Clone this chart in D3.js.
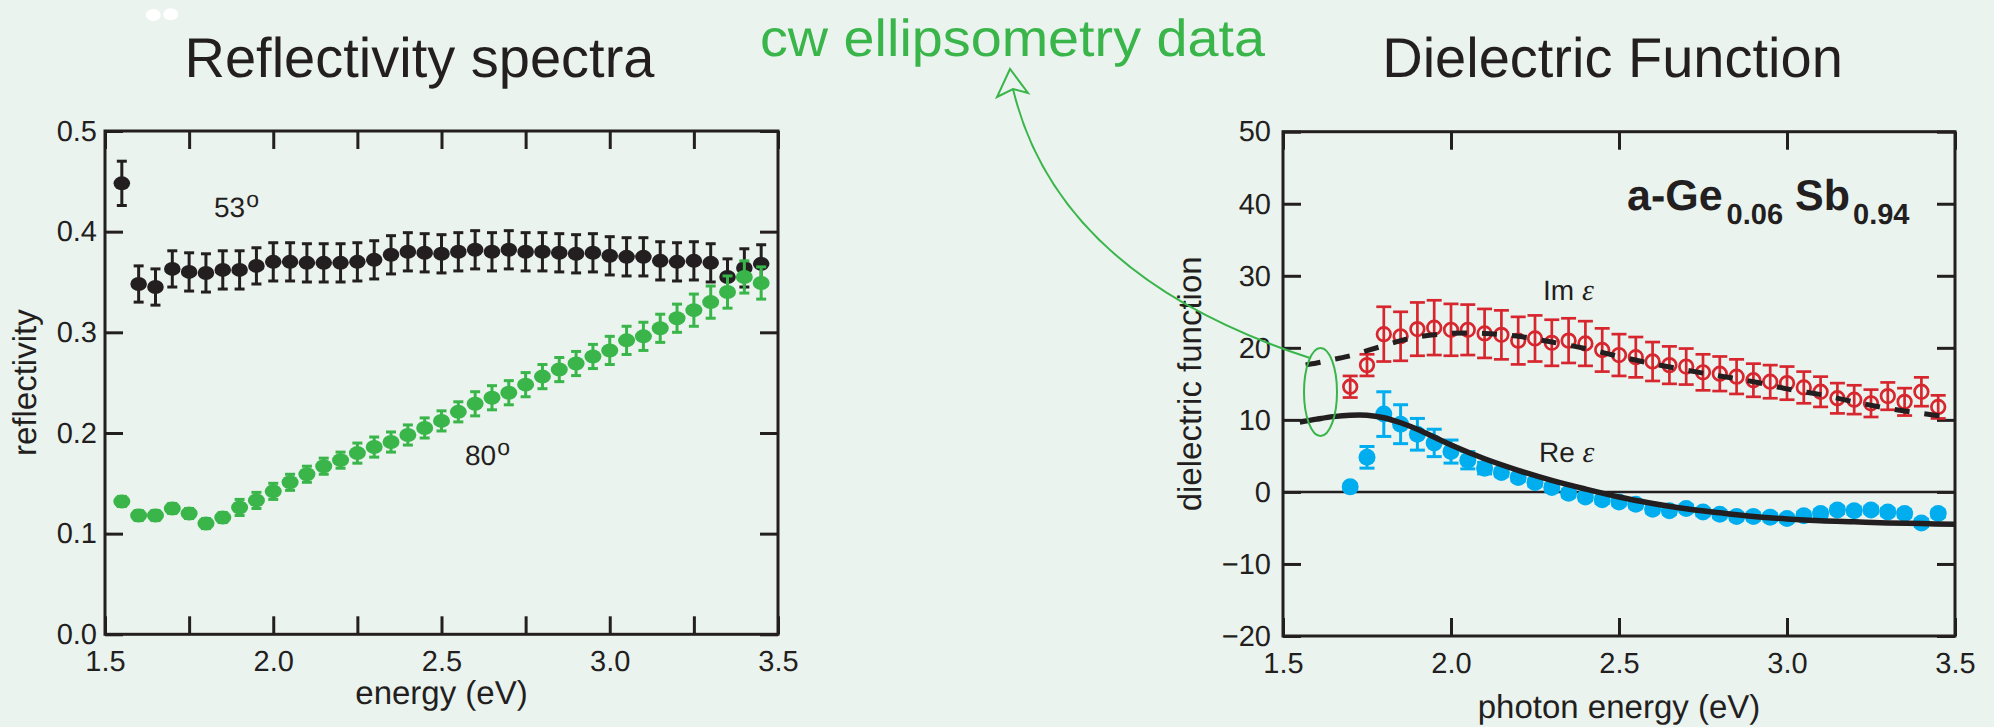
<!DOCTYPE html>
<html>
<head>
<meta charset="utf-8">
<script src="https://cdn.jsdelivr.net/npm/d3@7"></script>
<style>
  html, body { margin: 0; padding: 0; background: #ebf3ef; }
  svg { display: block; font-family: "Liberation Sans", Arial, Helvetica, sans-serif; text-rendering: geometricPrecision; }
</style>
</head>
<body>
<svg id="fig" width="1994" height="727"></svg>
<script>
// ---------- Reflectivity spectra ----------
const energyL = [1.55,1.60,1.65,1.70,1.75,1.80,1.85,1.90,1.95,2.00,2.05,2.10,2.15,2.20,2.25,2.30,2.35,2.40,2.45,2.50,
                 2.55,2.60,2.65,2.70,2.75,2.80,2.85,2.90,2.95,3.00,3.05,3.10,3.15,3.20,3.25,3.30,3.35,3.40,3.45];
const refl53 = [0.448,0.348,0.345,0.363,0.360,0.359,0.362,0.362,0.366,0.370,0.370,0.369,0.369,0.369,0.370,0.372,0.377,0.380,0.379,0.378,
                0.380,0.382,0.380,0.382,0.380,0.380,0.379,0.378,0.379,0.376,0.375,0.375,0.371,0.370,0.371,0.369,0.355,0.364,0.368];
const err53  = [0.022,0.018,0.018,0.018,0.019,0.019,0.019,0.019,0.018,0.019,0.019,0.019,0.019,0.019,0.019,0.019,0.019,0.019,0.019,0.019,
                0.019,0.019,0.019,0.019,0.019,0.019,0.019,0.019,0.019,0.019,0.019,0.019,0.019,0.019,0.019,0.019,0.018,0.019,0.019];
const refl80 = [0.132,0.118,0.118,0.125,0.120,0.110,0.116,0.126,0.133,0.142,0.151,0.159,0.167,0.173,0.180,0.186,0.191,0.198,0.205,0.212,
                0.221,0.229,0.235,0.240,0.248,0.256,0.263,0.269,0.276,0.282,0.292,0.296,0.304,0.314,0.322,0.330,0.340,0.355,0.349];
const err80  = [0.005,0.005,0.005,0.005,0.005,0.005,0.005,0.008,0.008,0.008,0.008,0.008,0.008,0.008,0.010,0.010,0.010,0.010,0.010,0.010,
                0.010,0.012,0.012,0.012,0.012,0.012,0.012,0.012,0.012,0.014,0.014,0.014,0.014,0.014,0.016,0.016,0.016,0.016,0.016];
const reflTicksY = [0.0,0.1,0.2,0.3,0.4,0.5];
const energyTicksL = [1.5,1.75,2.0,2.25,2.5,2.75,3.0,3.25,3.5];

// ---------- Dielectric function ----------
const energyR = [1.70,1.75,1.80,1.85,1.90,1.95,2.00,2.05,2.10,2.15,2.20,2.25,2.30,2.35,2.40,2.45,2.50,2.55,
                 2.60,2.65,2.70,2.75,2.80,2.85,2.90,2.95,3.00,3.05,3.10,3.15,3.20,3.25,3.30,3.35,3.40,3.45];
const imEps  = [14.6,17.6,21.9,21.6,22.6,22.8,22.5,22.5,22.0,21.8,21.0,21.3,20.7,21.0,20.6,19.7,19.0,18.7,
                18.1,17.6,17.4,16.6,16.4,16.0,15.5,15.3,15.1,14.5,13.9,13.0,12.8,12.3,13.3,12.5,13.9,11.8];
const imErr  = [1.5,1.5,3.8,3.4,3.7,3.8,3.6,3.5,3.4,3.4,3.3,3.2,3.2,3.1,3.1,3.0,2.9,2.8,
                2.7,2.6,2.5,2.5,2.4,2.4,2.3,2.3,2.3,2.2,2.1,2.1,2.0,1.9,1.9,1.9,2.0,1.6];
const reEps  = [0.7,4.8,10.8,9.4,8.0,6.8,5.6,4.4,3.3,2.7,2.0,1.3,0.6,-0.2,-0.7,-1.1,-1.4,-1.7,
                -2.4,-2.6,-2.3,-2.8,-3.1,-3.4,-3.4,-3.5,-3.7,-3.3,-3.0,-2.5,-2.6,-2.5,-2.8,-3.0,-4.3,-3.0];
const reErr  = [0.4,1.5,3.1,2.7,2.2,1.9,1.6,1.2,0.8,0.5,0.5,0.5,0.5,0.5,0.5,0.5,0.5,0.5,
                0.5,0.5,0.5,0.5,0.5,0.5,0.5,0.5,0.5,0.5,0.5,0.5,0.5,0.5,0.5,0.5,0.5,0.5];
// model fit curves
const modelE  = [1.55,1.60,1.65,1.70,1.75,1.80,1.85,1.90,2.00,2.10,2.20,2.30,2.40,2.50,2.60,2.70,2.80,2.90,3.00,3.10,3.20,3.30,3.40,3.50];
const imModel = [17.5,17.9,18.4,18.9,19.6,20.3,21.0,21.5,22.0,22.0,21.6,20.8,19.9,18.8,17.8,16.9,16.1,15.3,14.3,13.5,12.5,11.6,10.9,10.3];
const reModel = [9.7,10.1,10.45,10.65,10.65,10.3,9.6,8.7,6.5,4.6,3.0,1.6,0.4,-0.7,-1.6,-2.35,-2.9,-3.4,-3.75,-4.0,-4.15,-4.3,-4.4,-4.5];
const epsTicksY = [-20,-10,0,10,20,30,40,50];
const energyTicksR = [1.5,2.0,2.5,3.0,3.5];

const INK = "#231f20", GREEN = "#39b54a", RED = "#d7262e", BLUE = "#00aeef";
const svg = d3.select("#fig");

// ---------- scales ----------
const xL = d3.scaleLinear().domain([1.5, 3.5]).range([105, 778]);
const yL = d3.scaleLinear().domain([0, 0.5]).range([634.3, 131]);
const xR = d3.scaleLinear().domain([1.5, 3.5]).range([1283, 1955]);
const yR = d3.scaleLinear().domain([-20, 50]).range([636, 131.7]);

function styleAxis(g, fs) {
  g.select(".domain").remove();
  g.selectAll(".tick line").attr("stroke", INK).attr("stroke-width", 3);
  g.selectAll(".tick text").attr("fill", INK).attr("font-size", fs)
    .attr("font-family", '"Liberation Sans", Arial, sans-serif');
  g.attr("font-size", null).attr("font-family", null);
}

function frame(x, y) {
  const [x0, x1] = x.range(), [y0, y1] = y.range();
  svg.append("rect").attr("x", x0).attr("y", y1).attr("width", x1 - x0).attr("height", y0 - y1)
    .attr("fill", "none").attr("stroke", INK).attr("stroke-width", 3);
}

function errorBars(parent, xs, ys, es, x, y, capHalf, color, width) {
  const g = parent.append("g").attr("stroke", color).attr("stroke-width", width);
  const data = xs.map((e, i) => ({ e, v: ys[i], s: es[i] }));
  g.selectAll(".stem").data(data).enter().append("line")
    .attr("x1", d => x(d.e)).attr("x2", d => x(d.e))
    .attr("y1", d => y(d.v - d.s)).attr("y2", d => y(d.v + d.s));
  g.selectAll(".capHi").data(data).enter().append("line")
    .attr("x1", d => x(d.e) - capHalf).attr("x2", d => x(d.e) + capHalf)
    .attr("y1", d => y(d.v + d.s)).attr("y2", d => y(d.v + d.s));
  g.selectAll(".capLo").data(data).enter().append("line")
    .attr("x1", d => x(d.e) - capHalf).attr("x2", d => x(d.e) + capHalf)
    .attr("y1", d => y(d.v - d.s)).attr("y2", d => y(d.v - d.s));
}

// ---------- left panel ----------
const fmt1 = d3.format(".1f");
const halfStep = d => Math.abs(d * 2 - Math.round(d * 2)) < 1e-6;

svg.append("g").attr("transform", `translate(0,${yL(0)})`)
  .call(d3.axisBottom(xL).tickValues(energyTicksL).tickSize(-18).tickSizeOuter(0).tickPadding(16)
    .tickFormat(d => halfStep(d) ? fmt1(d) : ""))
  .call(g => styleAxis(g, 29));
svg.append("g").attr("transform", `translate(0,${yL(0.5)})`)
  .call(d3.axisTop(xL).tickValues(energyTicksL).tickSize(-18).tickSizeOuter(0).tickFormat(""))
  .call(g => styleAxis(g, 29));
svg.append("g").attr("transform", `translate(${xL(1.5)},0)`)
  .call(d3.axisLeft(yL).tickValues(reflTicksY).tickSize(-18).tickSizeOuter(0).tickPadding(8).tickFormat(fmt1))
  .call(g => styleAxis(g, 29));
svg.append("g").attr("transform", `translate(${xL(3.5)},0)`)
  .call(d3.axisRight(yL).tickValues(reflTicksY).tickSize(-18).tickSizeOuter(0).tickFormat(""))
  .call(g => styleAxis(g, 29));
frame(xL, yL);

const pL = svg.append("g");
errorBars(pL, energyL, refl53, err53, xL, yL, 5, INK, 3);
pL.append("g").selectAll("ellipse").data(energyL).enter().append("ellipse")
  .attr("cx", d => xL(d)).attr("cy", (d, i) => yL(refl53[i])).attr("rx", 8.3).attr("ry", 7).attr("fill", INK);
errorBars(pL, energyL, refl80, err80, xL, yL, 5, GREEN, 3);
pL.append("g").selectAll("ellipse").data(energyL).enter().append("ellipse")
  .attr("cx", d => xL(d)).attr("cy", (d, i) => yL(refl80[i])).attr("rx", 8.5).attr("ry", 7).attr("fill", GREEN);

svg.append("text").attr("x", 214).attr("y", 217).attr("font-size", 28).attr("fill", INK)
  .text("53").append("tspan").attr("dy", -10).attr("dx", 1).attr("font-size", 23).text("o");
svg.append("text").attr("x", 465).attr("y", 465).attr("font-size", 28).attr("fill", INK)
  .text("80").append("tspan").attr("dy", -10).attr("dx", 1).attr("font-size", 23).text("o");

svg.append("text").attr("transform", `translate(36,${(yL(0) + yL(0.5)) / 2}) rotate(-90)`)
  .attr("text-anchor", "middle").attr("font-size", 33).attr("fill", INK).text("reflectivity");
svg.append("text").attr("x", (xL(1.5) + xL(3.5)) / 2).attr("y", 704)
  .attr("text-anchor", "middle").attr("font-size", 33).attr("fill", INK).text("energy (eV)");

// ---------- right panel ----------
svg.append("g").attr("transform", `translate(0,${yR(-20)})`)
  .call(d3.axisBottom(xR).tickValues(energyTicksR).tickSize(-18).tickSizeOuter(0).tickPadding(16).tickFormat(fmt1))
  .call(g => styleAxis(g, 29));
svg.append("g").attr("transform", `translate(0,${yR(50)})`)
  .call(d3.axisTop(xR).tickValues(energyTicksR).tickSize(-18).tickSizeOuter(0).tickFormat(""))
  .call(g => styleAxis(g, 29));
svg.append("g").attr("transform", `translate(${xR(1.5)},0)`)
  .call(d3.axisLeft(yR).tickValues(epsTicksY).tickSize(-18).tickSizeOuter(0).tickPadding(12).tickFormat(d3.format("d")))
  .call(g => styleAxis(g, 29));
svg.append("g").attr("transform", `translate(${xR(3.5)},0)`)
  .call(d3.axisRight(yR).tickValues(epsTicksY).tickSize(-18).tickSizeOuter(0).tickFormat(""))
  .call(g => styleAxis(g, 29));

// zero line
svg.append("line").attr("x1", xR(1.5)).attr("x2", xR(3.5)).attr("y1", yR(0)).attr("y2", yR(0))
  .attr("stroke", INK).attr("stroke-width", 2.5);
frame(xR, yR);

const pR = svg.append("g");
errorBars(pR, energyR, imEps, imErr, xR, yR, 7.5, RED, 2.7);
pR.append("g").selectAll("circle").data(energyR).enter().append("circle")
  .attr("cx", d => xR(d)).attr("cy", (d, i) => yR(imEps[i])).attr("r", 6.8)
  .attr("fill", "none").attr("stroke", RED).attr("stroke-width", 2.7);
errorBars(pR, energyR, reEps, reErr, xR, yR, 7.5, BLUE, 3);
pR.append("g").selectAll("circle").data(energyR).enter().append("circle")
  .attr("cx", d => xR(d)).attr("cy", (d, i) => yR(reEps[i])).attr("r", 8.5).attr("fill", BLUE);

const lineR = ys => d3.line().x(d => xR(d)).y((d, i) => yR(ys[i])).curve(d3.curveCatmullRom)(modelE);
pR.append("path").attr("d", lineR(imModel)).attr("fill", "none").attr("stroke", INK)
  .attr("stroke-width", 5).attr("stroke-dasharray", "15,15").attr("stroke-dashoffset", 24);
pR.append("path").attr("d", lineR(reModel)).attr("fill", "none").attr("stroke", INK)
  .attr("stroke-width", 5.5);

// series labels
const im = svg.append("text").attr("x", 1543).attr("y", 300).attr("font-size", 28).attr("fill", INK);
im.append("tspan").text("Im ");
im.append("tspan").attr("font-family", '"Liberation Serif", "Times New Roman", serif').attr("font-style", "italic").attr("font-size", 30).text("ε");
const re = svg.append("text").attr("x", 1539).attr("y", 462).attr("font-size", 28).attr("fill", INK);
re.append("tspan").text("Re ");
re.append("tspan").attr("font-family", '"Liberation Serif", "Times New Roman", serif').attr("font-style", "italic").attr("font-size", 30).text("ε");

// sample composition
const comp = svg.append("text").attr("x", 1627).attr("y", 210).attr("font-weight", "bold").attr("fill", INK);
comp.append("tspan").attr("font-size", 43).text("a-Ge");
comp.append("tspan").attr("font-size", 29).attr("dx", 4).attr("dy", 14).text("0.06");
comp.append("tspan").attr("font-size", 43).attr("dx", 12).attr("dy", -14).text("Sb");
comp.append("tspan").attr("font-size", 29).attr("dx", 3).attr("dy", 14).text("0.94");

svg.append("text").attr("transform", `translate(1201,${(yR(-20) + yR(50)) / 2}) rotate(-90)`)
  .attr("text-anchor", "middle").attr("font-size", 33).attr("fill", INK).text("dielectric function");
svg.append("text").attr("x", (xR(1.5) + xR(3.5)) / 2).attr("y", 718)
  .attr("text-anchor", "middle").attr("font-size", 33).attr("fill", INK).text("photon energy (eV)");

// ---------- titles ----------
svg.append("text").attr("x", 419.5).attr("y", 77).attr("text-anchor", "middle")
  .attr("font-size", 56).attr("fill", INK).text("Reflectivity spectra");
svg.append("text").attr("x", 1612.5).attr("y", 77).attr("text-anchor", "middle")
  .attr("font-size", 56).attr("fill", INK).text("Dielectric Function");
svg.append("text").attr("x", 760).attr("y", 56).attr("font-size", 52)
  .attr("textLength", 505).attr("lengthAdjust", "spacingAndGlyphs")
  .attr("fill", GREEN).text("cw ellipsometry data");

// ---------- annotation: ellipse around low-energy model region and arrow ----------
svg.append("ellipse").attr("cx", 1320.5).attr("cy", 392).attr("rx", 16.5).attr("ry", 44)
  .attr("fill", "none").attr("stroke", GREEN).attr("stroke-width", 2);
svg.append("path").attr("d", "M1310,358 Q1058,276 1013,89")
  .attr("fill", "none").attr("stroke", GREEN).attr("stroke-width", 2);
svg.append("path").attr("d", "M1010,69 L997,97 L1013,89 L1028,93 Z")
  .attr("fill", "none").attr("stroke", GREEN).attr("stroke-width", 2).attr("stroke-linejoin", "miter");

// two small white marks in the top-left corner
svg.append("ellipse").attr("cx", 153.3).attr("cy", 15).attr("rx", 7.5).attr("ry", 6).attr("fill", "#ffffff");
svg.append("ellipse").attr("cx", 170.7).attr("cy", 14.3).attr("rx", 7.5).attr("ry", 6).attr("fill", "#ffffff");
</script>
</body>
</html>
